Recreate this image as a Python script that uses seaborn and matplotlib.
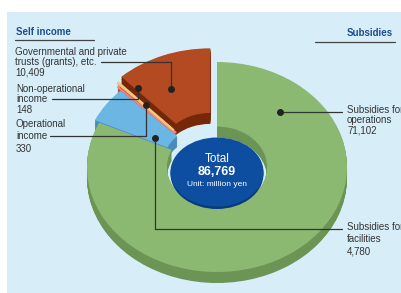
import numpy as np
import matplotlib.pyplot as plt
import matplotlib.patches as mpatches
import seaborn as sns

# data (million yen)
names = ["Subsidies for\noperations", "Subsidies for\nfacilities", "Operational\nincome",
         "Non-operational\nincome", "Governmental and private\ntrusts (grants), etc."]
values = [71102, 4780, 330, 148, 10409]
total = 86769
top_colors = ["#8cb972", "#6cb6e4", "#c2584c", "#d6a452", "#b34a22"]
side_colors = ["#6b9455", "#4a8bbf", "#a8463b", "#b8883a", "#752808"]
edge_colors = ["#8cb972", "#6cb6e4", "#f08a80", "#f2c77a", "#b34a22"]
explode = [0, 0.04, 0.075, 0.105, 0.14]

sns.set_style("white")
plt.rcParams["font.family"] = ["Liberation Sans", "DejaVu Sans"]

W, H = 402, 293
fig = plt.figure(figsize=(W / 100, H / 100), dpi=100)
fig.patch.set_facecolor("white")

# background panel (pixel coords)
ax_bg = fig.add_axes([0, 0, 1, 1], zorder=0)
ax_bg.set_xlim(0, W)
ax_bg.set_ylim(H, 0)
ax_bg.axis("off")
ax_bg.add_patch(mpatches.Rectangle((7, 12), W, H, color="#d7eef9", lw=0))

# pie axes, elliptical because aspect is left free
cx, cy, rx, ry = 217, 167, 130, 105
ax = fig.add_axes([0, 0, 1, 1], zorder=1)
ax.patch.set_alpha(0)
depth = 11
n_layers = 14
for k in range(n_layers, 0, -1):
    d = depth / ry * k / n_layers
    ax.pie(values, colors=side_colors, startangle=90, counterclock=False,
           explode=explode, center=(0, -d), radius=1,
           wedgeprops=dict(width=0.615, linewidth=0))
wedges, _ = ax.pie(values, colors=top_colors, startangle=90, counterclock=False,
                   explode=explode, center=(0, 0), radius=1,
                   wedgeprops=dict(width=0.615, linewidth=0))
for w, ec in zip(wedges[2:4], edge_colors[2:4]):
    w.set_edgecolor(ec)
    w.set_linewidth(1.2)
ax.set_aspect("auto")
ax.set_xlim(-cx / rx, (W - cx) / rx)
ax.set_ylim(-(H - cy) / ry, cy / ry)
ax.axis("off")

# overlay: labels, leaders, centre disk
ax2 = fig.add_axes([0, 0, 1, 1], zorder=2)
ax2.patch.set_alpha(0)
ax2.set_xlim(0, W)
ax2.set_ylim(H, 0)
ax2.axis("off")

ax2.add_patch(mpatches.Ellipse((217, 174), 93, 70, color="#083b7c", lw=0))
ax2.add_patch(mpatches.Ellipse((217, 172), 93, 69, color="#0d4ea0", lw=0))
ax2.text(217, 159, "Total", color="white", fontsize=8.5, ha="center", va="center")
ax2.text(217, 172, f"{total:,}", color="white", fontsize=9, fontweight="bold",
         ha="center", va="center")
ax2.text(217, 184, "Unit: million yen", color="white", fontsize=6,
         ha="center", va="center")

hdr = "#1f4e8c"
ax2.text(16, 32, "Self income", color=hdr, fontsize=7, fontweight="bold", va="center")
ax2.plot([15, 94], [40, 40], color="#444444", lw=0.9)
ax2.text(393, 33, "Subsidies", color=hdr, fontsize=7, fontweight="bold",
         va="center", ha="right")
ax2.plot([315, 395], [42, 42], color="#444444", lw=0.9)

txt = "#333333"
fs = 7
ax2.text(15, 47, f"{names[4]}\n{values[4]:,}", fontsize=fs, color=txt, va="top",
         linespacing=1.05)
ax2.text(16, 84, f"{names[3]}\n{values[3]:,}", fontsize=fs, color=txt, va="top",
         linespacing=1.05)
ax2.text(16, 119, f"{names[2]}\n{values[2]:,}", fontsize=fs, color=txt, va="top",
         linespacing=1.3)
ax2.text(347, 105, f"{names[0]}\n{values[0]:,}", fontsize=fs, color=txt, va="top",
         linespacing=1.05)
ax2.text(347, 222, f"{names[1]}\n{values[1]:,}", fontsize=fs, color=txt, va="top",
         linespacing=1.25)

lc = "#333333"
leaders = [
    ([101, 171, 171], [62, 62, 89]),
    ([52, 138, 138], [99, 99, 88]),
    ([50, 146, 146], [136, 136, 105]),
    ([155, 155, 342], [138, 229, 229]),
    ([280, 342], [112, 112]),
]
for xs, ys in leaders:
    ax2.plot(xs, ys, color=lc, lw=0.9)
dots = [(171, 89), (138, 88), (146, 105), (155, 138), (280, 112)]
for x, y in dots:
    ax2.plot(x, y, "o", color="#222222", ms=4)

fig.savefig("out.png", dpi=100)
